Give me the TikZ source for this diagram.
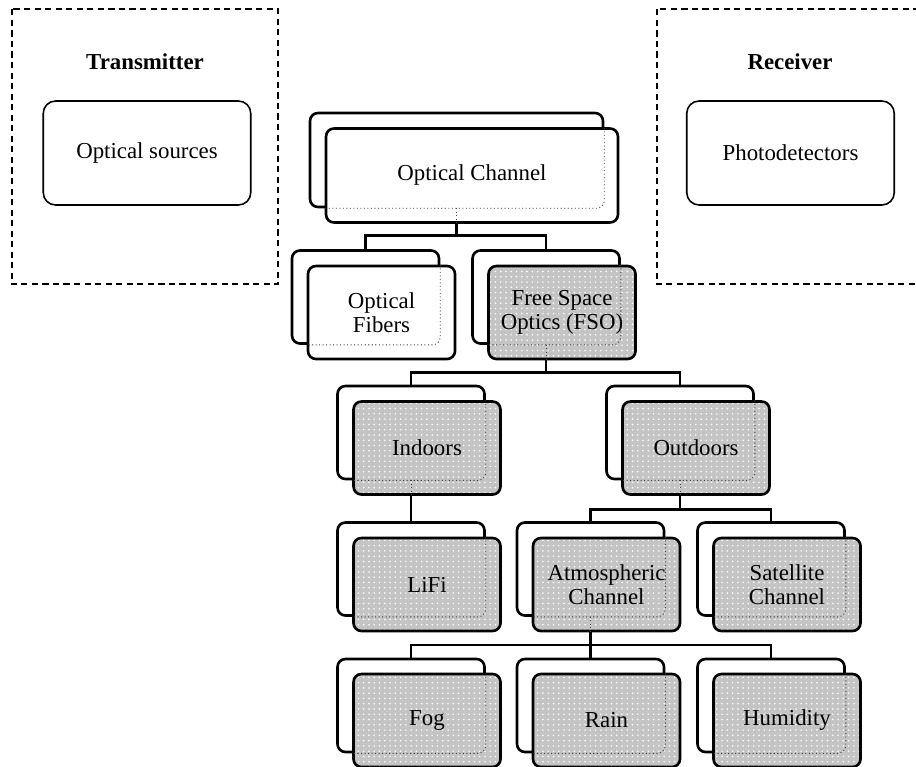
\documentclass[tikz,border=0pt]{standalone}
\usepackage{fontspec}
\setmainfont{Liberation Serif}
\usetikzlibrary{positioning,patterns}
\tikzset{
  stackbase/.style={draw,line width=1.5pt,rounded corners=4.5pt,
    minimum width=2.94cm,minimum height=1.86cm,inner sep=0pt},
  backbox/.style={stackbase,fill=white},
  plainbox/.style={stackbase,fill=white,align=center,
    font=\fontsize{13}{13.5}\selectfont},
  greybox/.style={stackbase,preaction={fill=black!23},pattern=dots,
    pattern color=white,align=center,font=\fontsize{13}{13.5}\selectfont},
  hidden/.style={draw=black!75,line width=0.5pt,
    dash pattern=on 0.6pt off 1.4pt,rounded corners=4.5pt},
  link/.style={line width=1.6pt},
  group/.style={line width=1.1pt,dash pattern=on 3.5pt off 2.5pt},
  unit/.style={draw,line width=0.9pt,rounded corners=7pt,minimum width=4.15cm,
    minimum height=2.08cm,font=\fontsize{13}{15}\selectfont},
  grouptitle/.style={font=\fontsize{13}{15}\selectfont\bfseries}
}
\begin{document}
\begin{tikzpicture}[x=0.02cm,y=-0.02cm]
  \useasboundingbox (0,0) rectangle (916,767);
  % transmitter and receiver
  \draw[group] (11.7,9.3) rectangle (278.3,284.3);
  \node[grouptitle] (txt) at (145,62) {Transmitter};
  \node[unit] (src) at (147,153) {Optical sources};
  \draw[group] (656.7,9.3) rectangle (940,284.3);
  \node[grouptitle] (rxt) at (790,62) {Receiver};
  \node[unit] (det) at (790.5,153) {Photodetectors};

  % back layers
  \node[backbox,minimum width=5.86cm,minimum height=1.88cm] (ch-b) at (456.5,160) {};
  \node[backbox] (fib-b) at (365.5,297) {};
  \node[backbox] (fso-b) at (546,297) {};
  \node[backbox] (in-b) at (411,432.5) {};
  \node[backbox] (out-b) at (680,432.5) {};
  \node[backbox] (lifi-b) at (411,569) {};
  \node[backbox] (atm-b) at (590.5,569) {};
  \node[backbox] (sat-b) at (771,569) {};
  \node[backbox] (fog-b) at (411,705.5) {};
  \node[backbox] (rain-b) at (590.5,705.5) {};
  \node[backbox] (hum-b) at (771,705.5) {};

  % tree links
  \coordinate (j1) at (456.5,235.7);
  \coordinate (j2) at (546,372.5);
  \coordinate (j3) at (680,509.3);
  \coordinate (j4) at (590.5,645);
  \draw[link] (ch-b.south) -- (j1) -| (fib-b.north);
  \draw[link] (j1) -| (fso-b.north);
  \draw[link] (fso-b.south) -- (j2) -| (in-b.north);
  \draw[link] (j2) -| (out-b.north);
  \draw[link] (in-b.south) -- (lifi-b.north);
  \draw[link] (out-b.south) -- (j3) -| (atm-b.north);
  \draw[link] (j3) -| (sat-b.north);
  \draw[link] (atm-b.south) -- (j4) -| (fog-b.north);
  \draw[link] (j4) -- (rain-b.north);
  \draw[link] (j4) -| (hum-b.north);

  % front layers
  \node[plainbox,minimum width=5.84cm,minimum height=1.88cm] (ch) at (472,175.5) {Optical Channel};
  \node[plainbox] (fib) at (381.5,312.5) {Optical\\Fibers};
  \node[greybox] (fso) at (562,312.5) {Free Space\\Optics (FSO)};
  \node[greybox] (in) at (427,448) {Indoors};
  \node[greybox] (out) at (696,448) {Outdoors};
  \node[greybox] (lifi) at (427,584.5) {LiFi};
  \node[greybox] (atm) at (606.5,584.5) {Atmospheric\\Channel};
  \node[greybox] (sat) at (787,584.5) {Satellite\\Channel};
  \node[greybox] (fog) at (427,720.5) {Fog};
  \node[greybox] (rain) at (606.5,720.5) {Rain};
  \node[greybox] (hum) at (787,720.5) {Humidity};

  % hidden outlines, only inside the front boxes
  \foreach \n in {ch,fib,fso,in,out,lifi,atm,sat,fog,rain,hum} {
    \begin{scope}
      \clip (\n.south west) rectangle (\n.north east);
      \draw[hidden] (\n-b.south west) rectangle (\n-b.north east);
    \end{scope}
  }
  \foreach \n in {ch,fso,in,out,atm}
    \draw[hidden,rounded corners=0pt] (\n-b.south) -- (\n-b.south |- \n.south);
\end{tikzpicture}
\end{document}
